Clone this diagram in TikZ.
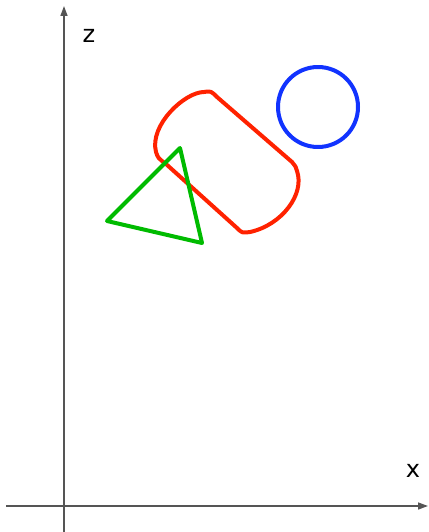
\documentclass[tikz,border=0pt]{standalone}
\usepackage{fontspec}
\setmainfont{DejaVu Sans}
\usetikzlibrary{arrows.meta}
\definecolor{axisgray}{RGB}{85,85,85}
\definecolor{shapered}{RGB}{255,34,0}
\definecolor{shapegreen}{RGB}{0,187,0}
\definecolor{shapeblue}{RGB}{17,51,255}
\tikzset{
  axis/.style={draw=axisgray, line width=1.5pt, -{Triangle[length=10pt,width=7pt]}},
  axislabel/.style={font=\fontsize{24}{26}\selectfont, inner sep=0pt, text=black},
  shapeline/.style={line width=4pt, line join=round}
}
\begin{document}
\begin{tikzpicture}[x=1pt,y=-1pt]
\useasboundingbox (0,0) rectangle (428,532);
% axes
\coordinate (zb) at (64,532);
\coordinate (zt) at (64,6);
\coordinate (xl) at (6,506);
\coordinate (xr) at (428,506);
\draw[axis] (zb) -- (zt);
\draw[axis] (xl) -- (xr);
\node[axislabel] (zlab) at (89,36) {z};
\node[axislabel] (xlab) at (413,471) {x};
% red shape
\draw[shapeline, draw=shapered]
  (166,164) -- (237,228)
  .. controls (242,233) .. (250,232)
  .. controls (282,225) and (305,194) .. (297,171)
  .. controls (296,167) .. (292,162)
  -- (217,97)
  .. controls (211,91) .. (204,92)
  .. controls (185,92) and (149,125) .. (156,152)
  .. controls (158,158) .. cycle;
% green triangle
\draw[shapeline, draw=shapegreen] (107,221) -- (180,148) -- (202,243) -- cycle;
% blue circle
\draw[shapeline, draw=shapeblue] (318,107) circle[radius=40];
\end{tikzpicture}
\end{document}
